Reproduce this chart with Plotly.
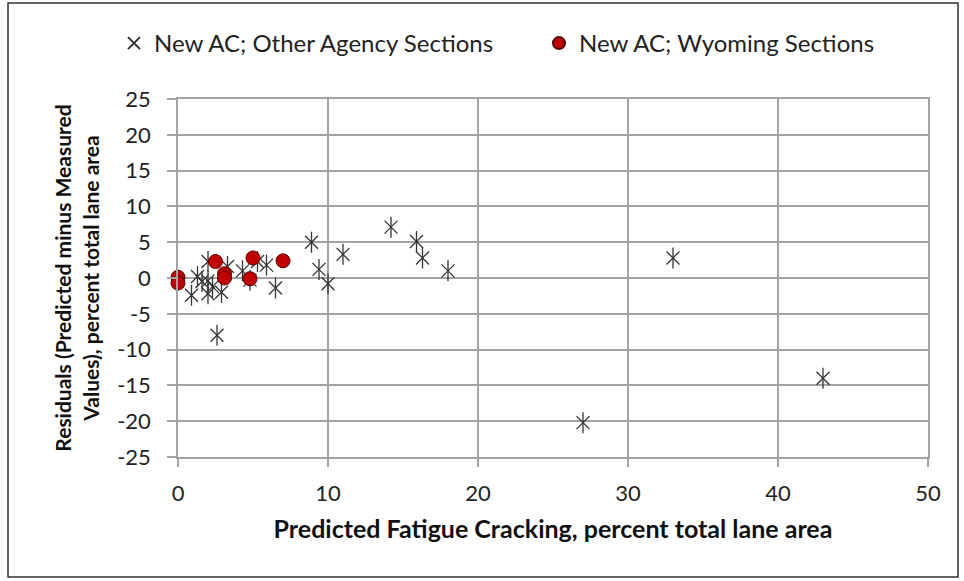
import plotly.graph_objects as go

# Residuals vs. predicted fatigue cracking (percent total lane area)
other_x = [27.0, 43.0, 33.0, 14.2, 15.9, 16.3, 18.0, 8.9, 11.0, 9.4, 10.0, 6.5, 2.6,
           0.9, 1.3, 2.0, 2.0, 1.6, 2.0, 2.9, 3.3, 4.3, 4.8, 5.3, 5.9, 2.3]
other_y = [-20.2, -14.0, 2.8, 7.1, 5.1, 2.8, 1.0, 5.0, 3.3, 1.2, -0.8, -1.4, -8.0,
           -2.4, 0.2, 2.3, -0.4, -0.5, -2.2, -2.0, 1.6, 1.0, -0.3, 2.3, 1.8, -1.2]

wyo_x = [0.0, 0.0, 2.5, 3.1, 3.1, 5.0, 4.8, 7.0]
wyo_y = [0.1, -0.7, 2.3, 0.6, 0.0, 2.8, -0.1, 2.4]

x_ticks = [0, 10, 20, 30, 40, 50]
y_ticks = [25, 20, 15, 10, 5, 0, -5, -10, -15, -20, -25]

FONT = "Lato, 'Open Sans', sans-serif"
GRID = "#a3a3a3"
STAR = "#333333"

fig = go.Figure()

# six-armed star marker: an x plus a vertical stroke
fig.add_trace(go.Scatter(
    x=other_x, y=other_y, mode="markers", name="New AC; Other Agency Sections",
    legendgroup="other", cliponaxis=False,
    marker=dict(symbol="x-thin-open", size=13, color=STAR, line=dict(color=STAR, width=1.3)),
))
fig.add_trace(go.Scatter(
    x=other_x, y=other_y, mode="markers", showlegend=False, legendgroup="other",
    hoverinfo="skip", cliponaxis=False,
    marker=dict(symbol="line-ns-open", size=15, color=STAR, line=dict(color=STAR, width=1.3)),
))
fig.add_trace(go.Scatter(
    x=wyo_x, y=wyo_y, mode="markers", name="New AC; Wyoming Sections", cliponaxis=False,
    marker=dict(symbol="circle", size=14, color="#c00000", line=dict(color="#5a0000", width=1)),
))

fig.update_layout(
    width=964, height=581,
    margin=dict(l=178, r=36, t=99, b=124),
    paper_bgcolor="white", plot_bgcolor="white",
    font=dict(family=FONT, size=22, color="#222"),
    showlegend=True,
    legend=dict(orientation="h", x=-0.068, y=1.155, xanchor="left", yanchor="middle",
                font=dict(family=FONT, size=24, color="#222"),
                itemsizing="constant", tracegroupgap=0, itemwidth=30,
                entrywidth=380, entrywidthmode="pixels",
                bgcolor="rgba(0,0,0,0)"),
    xaxis=dict(
        range=[0, 50], tickvals=x_ticks, ticktext=[str(v) for v in x_ticks],
        showgrid=True, gridcolor=GRID, gridwidth=1.5,
        showline=True, linecolor=GRID, linewidth=1.5, mirror=True,
        ticks="outside", ticklen=8, tickcolor=GRID, tickwidth=1.5,
        zeroline=False, ticklabelstandoff=8,
        tickfont=dict(family=FONT, size=22, color="#222"),
        title=dict(text="<b>Predicted Fatigue Cracking, percent total lane area</b>",
                   font=dict(family=FONT, size=25, color="#111"), standoff=15),
    ),
    yaxis=dict(
        range=[-25, 25], tickvals=y_ticks, ticktext=[str(v) for v in y_ticks],
        showgrid=True, gridcolor=GRID, gridwidth=1.5,
        showline=True, linecolor=GRID, linewidth=1.5, mirror=True,
        ticks="outside", ticklen=9, tickcolor=GRID, tickwidth=1.5,
        zeroline=False, ticklabelstandoff=12,
        tickfont=dict(family=FONT, size=22, color="#222"),
        title=dict(text="<b>Residuals (Predicted minus Measured<br>Values), percent total lane area</b>",
                   font=dict(family=FONT, size=21, color="#111"), standoff=12),
    ),
    shapes=[dict(type="rect", xref="paper", yref="paper",
                 x0=(8 - 178) / 750, x1=(958 - 178) / 750,
                 y0=(457 - 577) / 358, y1=(457 - 3) / 358,
                 line=dict(color="#333", width=1.5), fillcolor="rgba(0,0,0,0)", layer="below")],
)

fig.write_html("out.html")
